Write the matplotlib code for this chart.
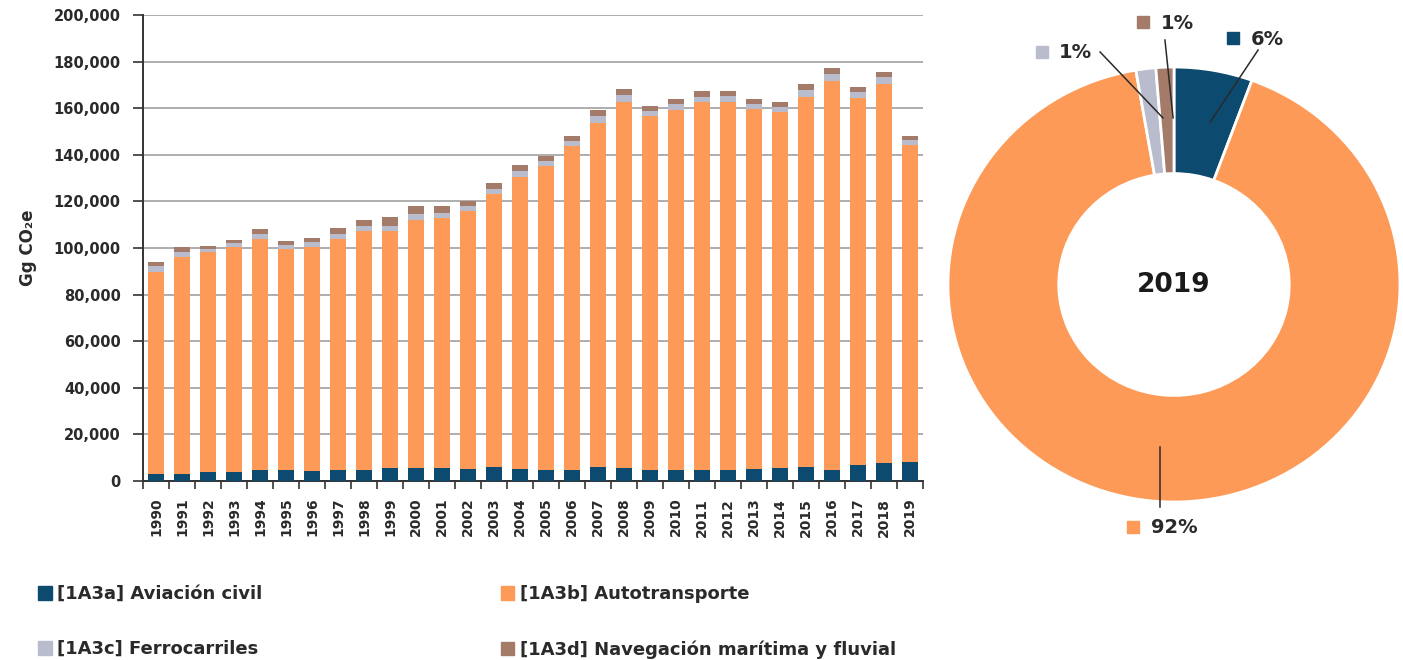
import matplotlib
matplotlib.use("Agg")
import matplotlib.pyplot as plt
from matplotlib.patches import Patch
import numpy as np

plt.rcParams['font.family'] = ['DejaVu Sans']

years = [str(y) for y in range(1990, 2020)]
# Gg CO2e
aviacion = [3000, 3200, 4000, 4000, 4700, 4600, 4300, 4700, 4700, 5400,
            5400, 5400, 5200, 6100, 5300, 4700, 4900, 6100, 5500, 4700,
            4700, 4700, 4700, 5100, 5400, 6100, 4900, 6900, 7600, 8300]
autotransporte = [86800, 92800, 94100, 96300, 99300, 95100, 96300, 99300, 102600, 101900,
                  106600, 107300, 110800, 117100, 125300, 130400, 139000, 147700, 157300, 152100,
                  154500, 157800, 158100, 154600, 152800, 158800, 166900, 157600, 163000, 135800]
ferrocarriles = [2400, 2300, 1500, 1700, 2200, 1600, 1800, 2200, 2200, 2300,
                 2400, 2200, 2000, 2300, 2400, 2200, 2100, 2800, 2700, 2200,
                 2600, 2400, 2400, 2300, 2500, 2900, 3000, 2600, 2700, 2100]
navegacion = [1900, 2000, 1400, 1600, 2100, 1800, 2000, 2200, 2500, 3600,
              3600, 3100, 2300, 2500, 2600, 2300, 2100, 2600, 2700, 2100,
              2300, 2400, 2200, 2100, 2000, 2600, 2600, 2100, 2300, 1900]

labels = ["[1A3a] Aviación civil", "[1A3b] Autotransporte",
          "[1A3c] Ferrocarriles", "[1A3d] Navegación marítima y fluvial"]
colors = ["#0d4a70", "#fd9a57", "#b9bccc", "#a47b68"]
yticks = list(range(0, 200001, 20000))
donut_year = "2019"

txt = "#2a2a2a"
fig = plt.figure(figsize=(14.03, 6.6), dpi=100)

# ---------- bar chart ----------
ax = fig.add_axes([143/1403, (660-481)/660, 780/1403, 466/660])
x = np.arange(len(years))
series = [aviacion, autotransporte, ferrocarriles, navegacion]
bottom = np.zeros(len(years))
for vals, c, lab in zip(series, colors, labels):
    ax.bar(x, vals, bottom=bottom, width=0.6, color=c, label=lab, zorder=3)
    bottom += np.array(vals)

ax.set_xlim(-0.5, len(years) - 0.5)
ax.set_ylim(0, 200000)
ax.set_yticks(yticks)
ax.set_yticklabels([f"{v:,}" for v in yticks], fontsize=10.5, fontweight='bold', color=txt)
ax.set_xticks(x)
ax.set_xticklabels(years, rotation=90, fontsize=10, fontweight='bold', color=txt)
ax.set_xticks(np.arange(-0.5, len(years)), minor=True)
ax.tick_params(axis='x', which='major', length=0, pad=12)
ax.tick_params(axis='x', which='minor', length=6, width=1.2, color="#333333")
ax.tick_params(axis='y', length=7, width=1.2, color="#333333", pad=9)
ax.yaxis.grid(True, color="#a8a8a8", lw=1.3, zorder=0)
for s in ['top', 'right']:
    ax.spines[s].set_visible(False)
for s in ['left', 'bottom']:
    ax.spines[s].set_color("#333333")
    ax.spines[s].set_linewidth(1.4)
ax.set_ylabel("Gg CO₂e", fontsize=12, fontweight='bold', color=txt, labelpad=12)

# ---------- donut ----------
dax = fig.add_axes([948/1403, (660-502)/660, 452/1403, 435/660])
vals19 = [s[-1] for s in series]
tot19 = sum(vals19)
wedges, _ = dax.pie(vals19, colors=colors, startangle=90, counterclock=False,
                    radius=1.0, wedgeprops=dict(width=0.49, edgecolor='white', linewidth=2))
dax.set_aspect('auto')
dax.set_xlim(-1, 1)
dax.set_ylim(-1, 1)
dax.axis('off')
dax.text(0, 0, donut_year, ha='center', va='center', fontsize=19, fontweight='bold', color="#1a1a1a")

pcts = [f"{round(v / tot19 * 100):.0f}%" for v in vals19]
# (square pos, text pos, line start, line end) in donut data coords
lab_pos = [
    ((0.262, 1.133), (0.340, 1.125), (0.372, 1.078), (0.160, 0.747)),
    ((-0.181, -1.115), (-0.100, -1.118), (-0.062, -1.023), (-0.062, -0.747)),
    ((-0.584, 1.069), (-0.508, 1.066), (-0.327, 1.069), (-0.049, 0.766)),
    ((-0.137, 1.207), (-0.058, 1.200), (-0.040, 1.124), (-0.004, 0.766)),
]
for (sq, tp, l0, l1), c, p in zip(lab_pos, colors, pcts):
    dax.plot([l0[0], l1[0]], [l0[1], l1[1]], color="#2b2b2b", lw=1.1, clip_on=False, zorder=5)
    dax.plot([sq[0]], [sq[1]], marker='s', ms=9, color=c, clip_on=False, zorder=5)
    dax.text(tp[0], tp[1], p, ha='left', va='center', fontsize=14, fontweight='bold',
             color=txt, clip_on=False)

# ---------- legend ----------
handles = [Patch(color=c) for c in colors]
order = [0, 2, 1, 3]
fig.legend([handles[i] for i in order], [labels[i] for i in order], ncol=2,
           loc='upper left', bbox_to_anchor=(22/1403, 1 - 569/660), frameon=False,
           prop={'size': 13, 'weight': 'bold'}, handlelength=0.75, handleheight=0.75,
           handletextpad=0.3, labelspacing=2.05, columnspacing=13.2, labelcolor=txt)

fig.savefig("out.png", dpi=100)
